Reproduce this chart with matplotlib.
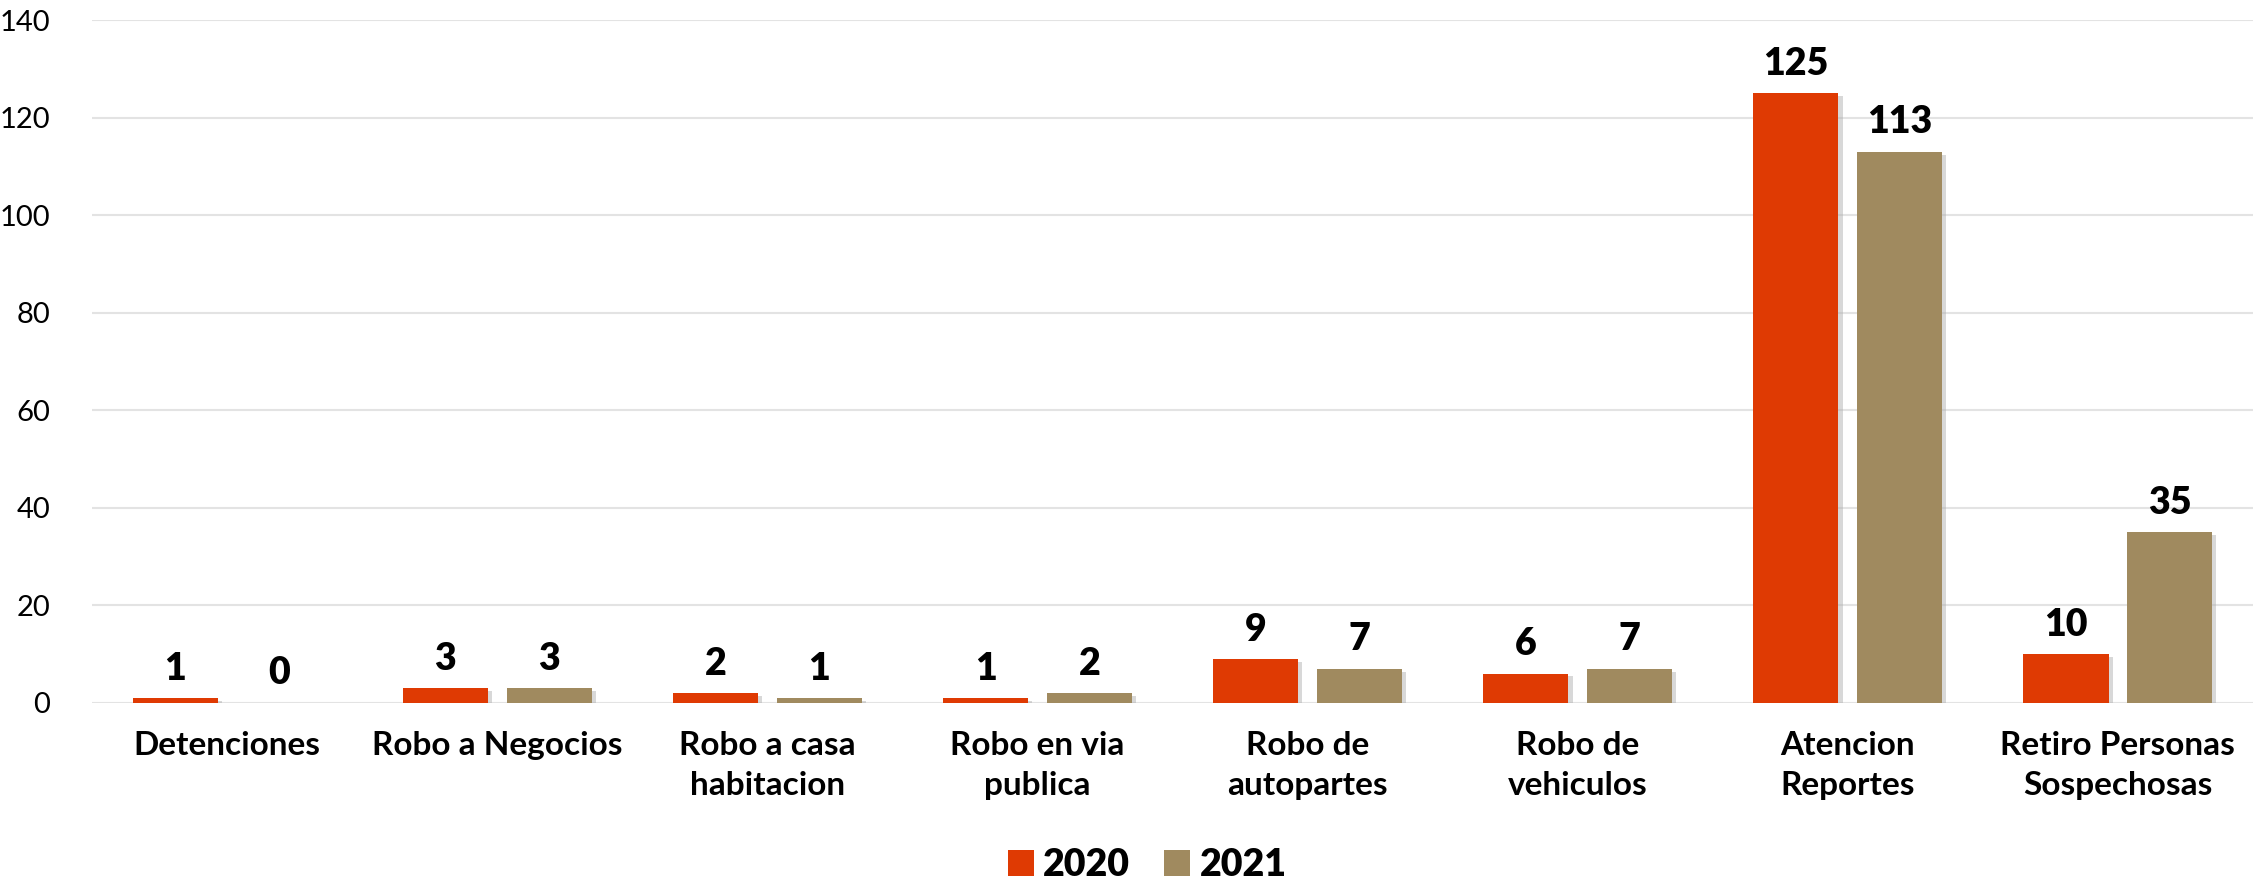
import matplotlib.pyplot as plt
import matplotlib.patheffects as pe
import numpy as np

plt.rcParams['font.family'] = ['Lato', 'DejaVu Sans']

categories = ['Detenciones', 'Robo a Negocios', 'Robo a casa\nhabitacion', 'Robo en via\npublica',
              'Robo de\nautopartes', 'Robo de\nvehiculos', 'Atencion\nReportes', 'Retiro Personas\nSospechosas']
vals_2020 = [1, 3, 2, 1, 9, 6, 125, 10]
vals_2021 = [0, 3, 1, 2, 7, 7, 113, 35]
yticks = [0, 20, 40, 60, 80, 100, 120, 140]

c2020 = '#DF3A03'
c2021 = '#A08A5F'

fig = plt.figure(figsize=(22.67, 8.85), dpi=100)
ax = fig.add_axes([0.0406, 0.2057, 0.9532, 0.7713])

x = np.arange(len(categories))
w = 0.315
off = 0.192
shadow = [pe.SimplePatchShadow(offset=(3, -2), shadow_rgbFace='#aaaaaa', alpha=0.45), pe.Normal()]
b1 = ax.bar(x - off, vals_2020, w, color=c2020, label='2020', path_effects=shadow)
b2 = ax.bar(x + off, vals_2021, w, color=c2021, label='2021', path_effects=shadow)

for bars, vals in ((b1, vals_2020), (b2, vals_2021)):
    for r, v in zip(bars, vals):
        ax.annotate(str(v), (r.get_x() + r.get_width() / 2, v), xytext=(0, 9),
                    textcoords='offset points', ha='center', va='bottom',
                    fontsize=27, fontweight='heavy', color='black')

ax.set_xlim(-0.5, len(categories) - 0.5)
ax.set_ylim(0, 140)
ax.set_yticks(yticks)
ax.set_yticklabels([str(t) for t in yticks], fontsize=21)
ax.set_xticks(x)
ax.set_xticklabels(categories, fontsize=24, fontweight='bold', linespacing=1.45, va='top')
ax.tick_params(axis='both', length=0)
ax.tick_params(axis='y', pad=30)
ax.tick_params(axis='x', pad=20)
ax.grid(axis='y', color='#e3e3e3', linewidth=1.5)
ax.set_axisbelow(True)
for s in ax.spines.values():
    s.set_visible(False)

leg = fig.legend(handles=[b1, b2], labels=['2020', '2021'], loc='lower center',
                 bbox_to_anchor=(0.506, -0.035), ncol=2, frameon=False,
                 prop={'size': 27, 'weight': 'heavy'}, handlelength=0.7, handleheight=0.7,
                 handletextpad=0.25, columnspacing=0.9)
for h in leg.legend_handles:
    h.set_path_effects([])

fig.savefig('out.png', dpi=100, facecolor='white')
